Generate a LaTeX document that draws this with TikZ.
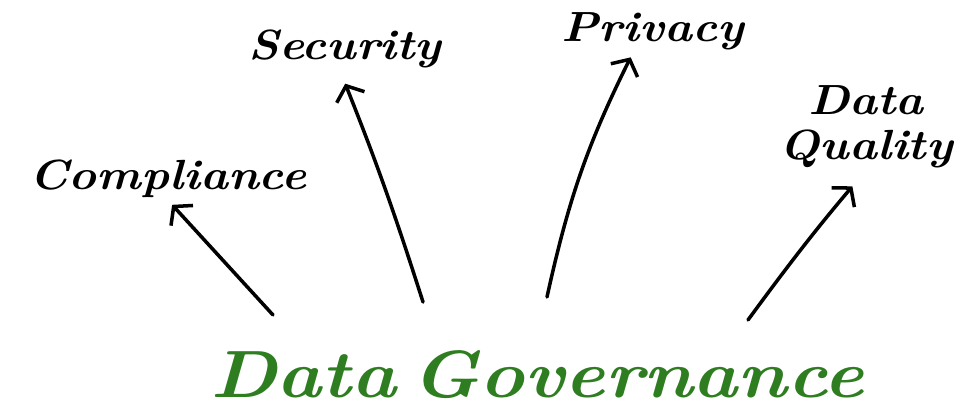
\documentclass[tikz,border=0pt]{standalone}
\usetikzlibrary{arrows.meta}
\definecolor{govgreen}{RGB}{46,125,32}
\newcommand\widetxt[1]{\scalebox{1.12}[1]{#1}}
\tikzset{
  lbl/.style={inner sep=1pt, font=\fontsize{24}{25.5}\selectfont\bfseries\itshape, align=center},
  arr/.style={line width=2pt, line cap=round,
    -{Straight Barb[length=7pt,width=17pt,line width=2pt]}},
}
\begin{document}
\begin{tikzpicture}[x=0.02cm, y=-0.02cm]
  \useasboundingbox (0,0) rectangle (963,411);
  \node[lbl, anchor=base] (cmpl) at (168,190) {\widetxt{Compliance}};
  \node[lbl, anchor=base] (secu) at (345,60) {\widetxt{Security}};
  \node[lbl, anchor=base] (priv) at (653,42) {\widetxt{Privacy}};
  \node[lbl] (qual) at (866,127) {\widetxt{Data}\\\widetxt{Quality}};
  \node[anchor=base, inner sep=1pt, font=\fontsize{38}{40}\selectfont\bfseries\itshape, text=govgreen]
    (gov) at (537,398) {\scalebox{1.14}[1]{Data\hspace{0.2em}Governance}};
  \coordinate (t1) at (273,315);
  \coordinate (t2) at (423,302);
  \coordinate (t3) at (547,297);
  \coordinate (t4) at (748,320);
  \draw[arr, shorten >=3.5pt] (t1) to (cmpl.south);
  \draw[arr, shorten >=8pt] (t2) to[bend right=2] ([xshift=-0.1cm]secu.south);
  \draw[arr, shorten >=3pt] (t3) to[bend left=7] ([xshift=-0.4cm]priv.south);
  \draw[arr, shorten >=12pt] (t4) to[bend left=2] (qual.south);
\end{tikzpicture}
\end{document}
